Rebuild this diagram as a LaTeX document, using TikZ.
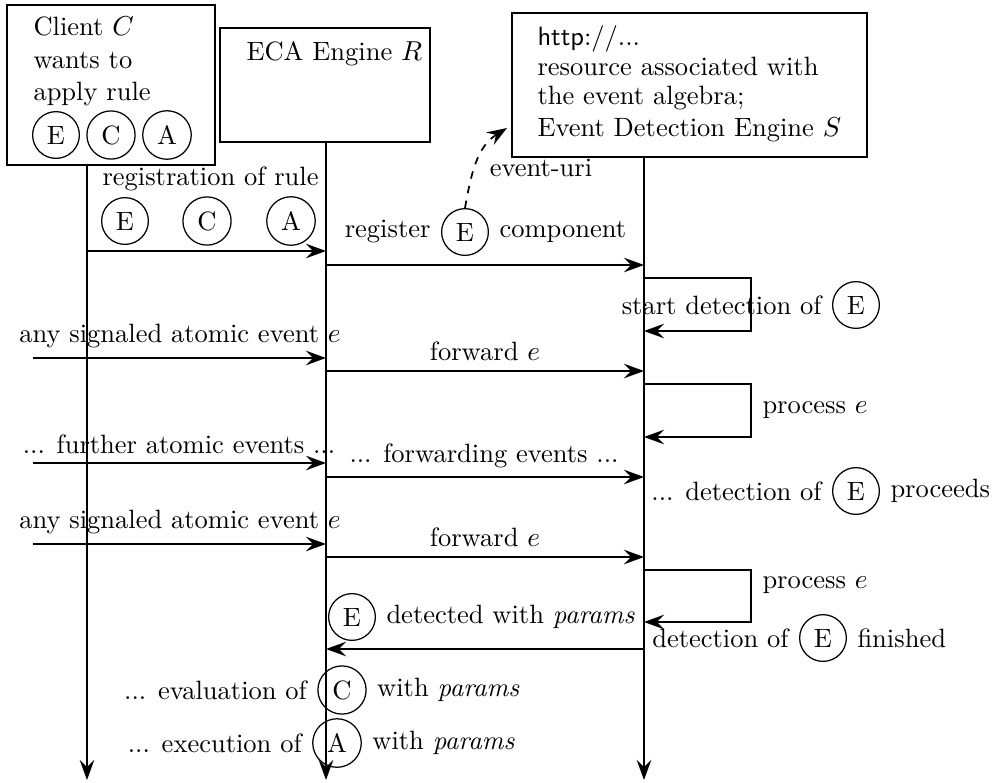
\documentclass[tikz,border=0pt]{standalone}
\usetikzlibrary{arrows.meta}
\begin{document}
\begin{tikzpicture}[x=0.4pt,y=-0.4pt,
  every node/.style={font=\fontsize{10.6}{12.7}\selectfont},
  msg/.style={line width=0.7pt,-{Stealth[length=8pt,width=5.8pt,inset=2.8pt]}},
  ev/.style={circle,draw,line width=0.5pt,inner sep=3pt},
  box/.style={draw,thick,fill=white,inner sep=0pt},
  txt/.style={inner sep=0pt},
]
\useasboundingbox (0,0) rectangle (992,782);

% participant boxes
\node[box,minimum width=83.2pt,minimum height=64pt] (client) at (111,85) {};
\node[txt,anchor=base west] (cl1) at (33,35) {Client $C$};
\node[txt,anchor=base west] (cl2) at (33,68) {wants to};
\node[txt,anchor=base west] (cl3) at (33,100) {apply rule};
\node[ev] (cE1) at (56,135) {E};
\node[ev] (cC1) at (111,135) {C};
\node[ev] (cA1) at (167,135) {A};

\node[box,minimum width=84pt,minimum height=45.6pt] (eca) at (325,85) {};
\node[txt,anchor=base west] (ecaT) at (246,60) {ECA Engine $R$};

\node[box,minimum width=142pt,minimum height=57.6pt] (eds) at (689.5,85) {};
\node[txt,anchor=base west] (s1) at (537,45) {\textsf{http}://...};
\node[txt,anchor=base west] (s2) at (537,75) {resource associated with};
\node[txt,anchor=base west] (s3) at (537,104) {the event algebra;};
\node[txt,anchor=base west] (s4) at (537,136) {Event Detection Engine $S$};

% lifelines
\coordinate (cEnd) at (87,780);
\coordinate (eEnd) at (326,780);
\coordinate (sEnd) at (644,780);
\draw[msg] (client.south -| cEnd) -- (cEnd);
\draw[msg] (eca.south -| eEnd) -- (eEnd);
\draw[msg] (eds.south -| sEnd) -- (sEnd);

% registration of the rule
\node[txt,anchor=base west] (regT) at (102,185) {registration of rule};
\node[ev] (rE) at (125,221) {E};
\node[ev] (rC) at (207,221) {C};
\node[ev] (rA) at (291,221) {A};
\draw[msg] (cEnd |- 0,251) -- (eEnd |- 0,251);

% register the event component
\node[ev] (gE) at (465,232) {E};
\node[txt,anchor=east] (gL) at ([xshift=-4pt]gE.west) {register};
\node[txt,anchor=west] (gR) at ([xshift=4pt]gE.east) {component};
\draw[msg] (eEnd |- 0,265) -- (sEnd |- 0,265);
\coordinate (uri) at (507,128);
\draw[msg,dashed] (gE.north) to[out=80,in=212] (uri);
\node[txt] (uriT) at (541,168) {event-uri};

% start detection
\coordinate (l1) at (751,305);
\draw[msg] (sEnd |- 0,278) -| (l1) |- (sEnd |- 0,331);
\node[ev] (dE) at (856,305) {E};
\node[txt,anchor=east] (dL) at ([xshift=-4pt]dE.west) {start detection of};

% first atomic event
\coordinate (in1) at (33,358);
\draw[msg] (in1) -- (eEnd |- in1);
\node[txt,anchor=base] (in1T) at (180,342) {any signaled atomic event $e$};
\draw[msg] (eEnd |- 0,371) -- (sEnd |- 0,371);
\node[txt,anchor=base] (fw1) at (485,360) {forward $e$};
\coordinate (l2) at (751,410);
\draw[msg] (sEnd |- 0,384) -| (l2) |- (sEnd |- 0,437);
\node[txt,anchor=base west] (p1) at (762,413) {process $e$};

% further events
\coordinate (in2) at (33,463);
\draw[msg] (in2) -- (eEnd |- in2);
\node[txt,anchor=base] (in2T) at (179,453) {... further atomic events ...};
\draw[msg] (eEnd |- 0,477) -- (sEnd |- 0,477);
\node[txt,anchor=base] (fw2) at (484,462) {... forwarding events ...};
\node[ev] (pE) at (856,491) {E};
\node[txt,anchor=east] (pL) at ([xshift=-4pt]pE.west) {... detection of};
\node[txt,anchor=west] (pR) at ([xshift=4pt]pE.east) {proceeds};

% last atomic event
\coordinate (in3) at (33,544);
\draw[msg] (in3) -- (eEnd |- in3);
\node[txt,anchor=base] (in3T) at (180,528) {any signaled atomic event $e$};
\draw[msg] (eEnd |- 0,557) -- (sEnd |- 0,557);
\node[txt,anchor=base] (fw3) at (485,546) {forward $e$};
\coordinate (l3) at (751,596);
\draw[msg] (sEnd |- 0,570) -| (l3) |- (sEnd |- 0,622);
\node[txt,anchor=base west] (p3) at (762,588) {process $e$};

% detection finished
\node[ev] (fE) at (823,638) {E};
\node[txt,anchor=east] (fL) at ([xshift=-4pt]fE.west) {detection of};
\node[txt,anchor=west] (fR) at ([xshift=4pt]fE.east) {finished};
\draw[msg] (sEnd |- 0,649) -- (eEnd |- 0,649);
\node[ev] (xE) at (352,617) {E};
\node[txt,anchor=west] (xR) at ([xshift=4pt]xE.east) {detected with \textit{params}};

% condition and action
\node[ev] (eC) at (342,690) {C};
\node[txt,anchor=east] (eCL) at ([xshift=-4pt]eC.west) {... evaluation of};
\node[txt,anchor=west] (eCR) at ([xshift=4pt]eC.east) {with \textit{params}};
\node[ev] (eA) at (337,743) {A};
\node[txt,anchor=east] (eAL) at ([xshift=-4pt]eA.west) {... execution of};
\node[txt,anchor=west] (eAR) at ([xshift=4pt]eA.east) {with \textit{params}};
\end{tikzpicture}
\end{document}
